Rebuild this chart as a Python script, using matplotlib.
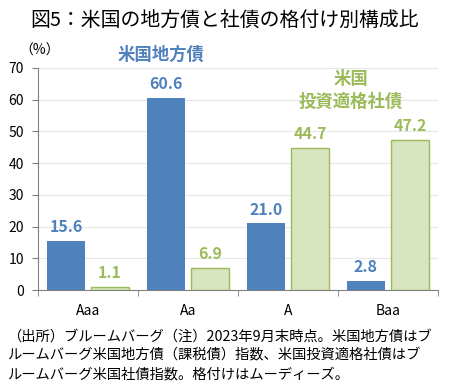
import matplotlib
matplotlib.use("Agg")
import matplotlib.pyplot as plt
import numpy as np

plt.rcParams['font.family'] = ['Noto Sans CJK JP', 'DejaVu Sans']

# data
ratings = ['Aaa', 'Aa', 'A', 'Baa']
muni = [15.6, 60.6, 21.0, 2.8]      # 米国地方債
corp = [1.1, 6.9, 44.7, 47.2]       # 米国投資適格社債
yticks = [0, 10, 20, 30, 40, 50, 60, 70]

blue = '#4F81BD'
green_fill = '#D7E4BD'
green_edge = '#9BBB59'

fig = plt.figure(figsize=(4.5, 3.92), dpi=100)
ax = fig.add_axes([0.0844, 0.26, 0.8886, 0.567])

x = np.arange(len(ratings))
w = 0.38
ax.bar(x - 0.22, muni, w, color=blue, zorder=3)
ax.bar(x + 0.22, corp, w, color=green_fill, edgecolor=green_edge, linewidth=1, zorder=3)

for xi, v in zip(x, muni):
    ax.text(xi - 0.22, v + 1.8, f'{v:.1f}', ha='center', va='bottom',
            color=blue, fontsize=11.5, fontweight='bold')
for xi, v in zip(x, corp):
    ax.text(xi + 0.22, v + 1.8, f'{v:.1f}', ha='center', va='bottom',
            color=green_edge, fontsize=11.5, fontweight='bold')

ax.set_xlim(-0.5, 3.5)
ax.set_ylim(0, 70)
ax.set_yticks(yticks)
ax.set_yticklabels([str(t) for t in yticks], fontsize=10)
ax.yaxis.grid(True, color='#E6E6E6', linewidth=0.8, zorder=0)
ax.set_xticks(x)
ax.set_xticklabels(ratings, fontsize=10)
ax.set_xticks(np.arange(-0.5, 4.0, 1.0), minor=True)
ax.tick_params(axis='x', which='major', length=0, pad=10)
ax.tick_params(axis='x', which='minor', length=4, color='#808080')
ax.tick_params(axis='y', length=4, color='#808080', pad=6)
for s in ['top', 'right']:
    ax.spines[s].set_visible(False)
for s in ['left', 'bottom']:
    ax.spines[s].set_color('#808080')
    ax.spines[s].set_linewidth(0.8)

fig.text(0.5, 0.945, '図5：米国の地方債と社債の格付け別構成比', ha='center', va='center',
         fontsize=14.3)
fig.text(0.088, 0.872, '（%）', ha='center', va='center', fontsize=10)
fig.text(0.358, 0.86, '米国地方債', ha='center', va='center', fontsize=12.5,
         fontweight='bold', color=blue)
fig.text(0.78, 0.77, '米国\n投資適格社債', ha='center', va='center', fontsize=12.5,
         fontweight='bold', color=green_edge, linespacing=1.35)

note = ('（出所）ブルームバーグ（注）2023年9月末時点。米国地方債はブ\n'
        'ルームバーグ米国地方債（課税債）指数、米国投資適格社債はブ\n'
        'ルームバーグ米国社債指数。格付けはムーディーズ。')
fig.text(0.016, 0.16, note, ha='left', va='top', fontsize=10.3, linespacing=1.45)

fig.savefig('out.png', dpi=100)
